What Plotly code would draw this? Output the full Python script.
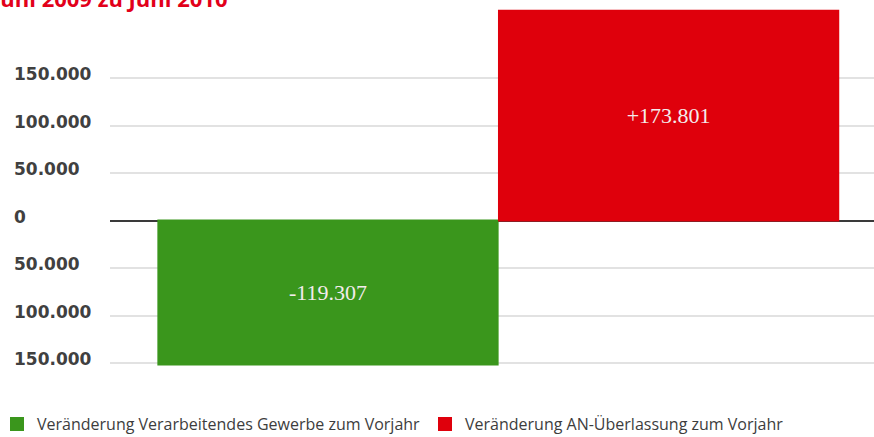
import plotly.graph_objects as go

# ---- data -------------------------------------------------------------
series_names = ["Veränderung Verarbeitendes Gewerbe zum Vorjahr",
                "Veränderung AN-Überlassung zum Vorjahr"]
series_values = [-119307, 173801]
value_labels = ["-119.307", "+173.801"]
bar_colors = ["#3a961c", "#df000c"]

title_text = "Juni 2009 zu Juni 2010"

# gridline ticks as printed in the source (negative side printed without sign)
tick_steps = [-3, -2, -1, 0, 1, 2, 3]
tick_labels = ["150.000", "100.000", "50.000", "0", "50.000", "100.000", "150.000"]
GRID_STEP = 39350   # source gridline spacing in data units

# ---- layout constants ---------------------------------------------------
W, H = 874, 437
ML, MR, MT, MB = 110, 0, 0, 57
PW = W - ML - MR
PH = H - MT - MB

legend_ids = ["legend", "legend2"]
legend_px = [-3, 425]          # page x of each legend box

fig = go.Figure()
for i, (name, val, lab, col) in enumerate(zip(series_names, series_values, value_labels, bar_colors)):
    fig.add_trace(go.Bar(
        x=[i], y=[val], width=[0.996], name=name, legend=legend_ids[i],
        marker=dict(color=col, line=dict(width=2, color=col)),
        text=[lab], textposition="inside", insidetextanchor="middle",
        textfont=dict(family="Liberation Serif", size=22, color="#f4ecec"),
        hoverinfo="skip",
    ))

tickvals = [s * GRID_STEP for s in tick_steps]

legend_style = dict(orientation="h", xanchor="left", yanchor="bottom",
                    y=(PH - 441) / PH, bgcolor="rgba(0,0,0,0)",
                    font=dict(family="Open Sans", size=16, color="#3d3d3d"),
                    itemclick=False, itemdoubleclick=False)

fig.update_layout(
    width=W, height=H,
    margin=dict(l=ML, r=MR, t=MT, b=MB, pad=0, autoexpand=False),
    paper_bgcolor="white", plot_bgcolor="white",
    barmode="overlay",
    showlegend=True,
    legend=dict(x=(legend_px[0] - ML) / PW, **legend_style),
    legend2=dict(x=(legend_px[1] - ML) / PW, **legend_style),
    xaxis=dict(range=[-0.640, 1.603], showgrid=False, zeroline=False,
               showticklabels=False, ticks="", fixedrange=True),
    yaxis=dict(range=[-132130, 182660], tickvals=tickvals, showticklabels=False,
               ticks="", showgrid=True, gridcolor="#e2e2e2", gridwidth=1.5,
               zeroline=True, zerolinecolor="#3a3a3a", zerolinewidth=2,
               fixedrange=True),
)

# tick labels, left aligned as in the source
for tv, tl in zip(tickvals, tick_labels):
    fig.add_annotation(xref="paper", yref="y", x=(12 - ML) / PW, y=tv,
                       xanchor="left", yanchor="middle", yshift=4,
                       text=tl, showarrow=False,
                       font=dict(family="DejaVu Sans", size=17, color="#404040", weight="bold"))

# title, cropped at the top edge in the source
fig.add_annotation(xref="paper", yref="paper", x=(-11 - ML) / PW, y=1 + 2 / PH,
                   xanchor="left", yanchor="middle", text=title_text, showarrow=False,
                   font=dict(family="Open Sans", size=22, color="#e2001a", weight="bold"))

fig.write_html("out.html", config={"displayModeBar": False},
               post_script="document.body.style.margin='0';document.body.style.overflow='hidden';")
